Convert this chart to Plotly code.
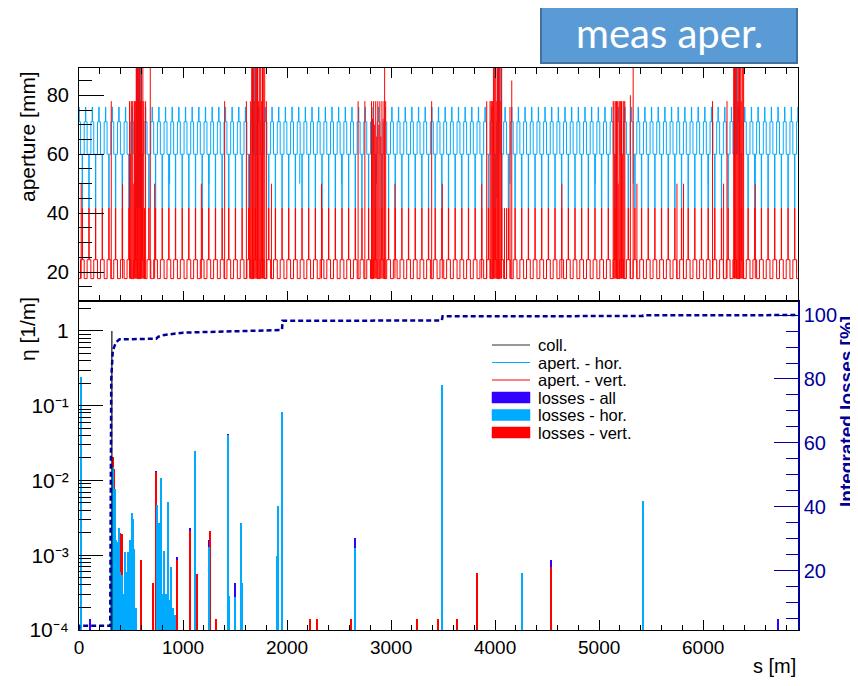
import plotly.graph_objects as go

# page body adds an 8 px margin, so the figure is drawn 8 px in from the window corner
OFF = 8
W, H = 858 - OFF, 686 - 2 * OFF

# ---------------------------------------------------------------- data
RING_LENGTH_M = 6911.5
S_TICKS = [0, 1000, 2000, 3000, 4000, 5000, 6000]
APER_TICKS = [20, 40, 60, 80]
ETA_TICKS = [1e-4, 1e-3, 1e-2, 1e-1, 1]
ETA_TICK_LABELS = ["10\u207b\u2074", "10\u207b\u00b3", "10\u207b\u00b2", "10\u207b\u00b9", "1"]
INT_TICKS = [20, 40, 60, 80, 100]

# repeating arc cell: edges relative to each focusing quad [m]
CELL_PERIOD_M = 64.0
N_CELLS = 109
CELL_EDGES_M = [-14, -1.5, 1.5, 14, 30.5, 33.5, 50]
CELL_APER_HOR = [71, 76, 71, 60, 41.7, 60]
CELL_APER_VER = [17.8, 17.8, 17.8, 24.2, 41.7, 24.2]

# isolated vertical-aperture spikes (from the 17.8 mm floor)
RED_SPIKE_S = [21, 419, 727, 1176, 1850, 2331, 3037, 3492, 3871, 4641, 5363, 5748, 5811, 6196, 6501,
               310, 1400, 2683, 2748, 3390, 6090]
RED_SPIKE_TOP = [50, 50, 50, 50, 50, 50, 50, 50, 50, 50, 50, 50, 50, 50, 50,
                 78, 78, 78, 78, 78, 78]

# straight sections: dense vertical-aperture lines
LSS_RED_S = [486, 494, 502, 510, 518, 526, 534, 542, 550, 556, 562, 568, 574, 580, 586, 592, 600, 606,
             614, 622, 630, 640, 685,
             1609, 1640, 1650, 1660, 1668, 1676, 1684, 1692, 1700, 1708, 1716, 1724, 1732, 1740, 1748,
             1756, 1764, 1772, 1785, 1801,
             2812, 2822, 2832, 2842, 2852, 2862, 2872, 2882, 2892, 2902, 2912, 2922, 2932, 2938, 2948,
             3919, 3951, 3960, 3968, 3976, 3984, 3992, 4000, 4008, 4016, 4024, 4032, 4040, 4048, 4057,
             4063, 4090, 4110, 4143, 4160,
             5135, 5143, 5151, 5159, 5167, 5175, 5183, 5191, 5199, 5207, 5215, 5223, 5231, 5239, 5247,
             5300, 5327,
             6229, 6293, 6301, 6309, 6317, 6325, 6333, 6341, 6349, 6357, 6365, 6373, 6381, 6389]
LSS_RED_TOP = [78, 60, 78, 78, 78, 50, 78, 78, 95, 95, 95, 78, 95, 95, 95, 78, 95, 78,
               95, 78, 41.7, 78, 95,
               78, 60, 78, 95, 95, 95, 78, 95, 95, 95, 95, 78, 95, 95, 95,
               78, 95, 95, 95, 78,
               78, 72, 78, 70, 78, 66, 78, 70, 78, 66, 78, 72, 78, 95, 78,
               78, 78, 78, 78, 78, 95, 95, 95, 95, 78, 95, 95, 95, 78, 95,
               95, 41.7, 41.7, 76, 85,
               78, 78, 60, 78, 78, 78, 50, 78, 78, 78, 78, 60, 78, 78, 78,
               80, 95,
               78, 95, 95, 95, 95, 95, 78, 95, 95, 95, 78, 95, 95, 95]

# extra horizontal-aperture lines
BLUE_EXTRA_S = [871, 1249, 2122, 2526, 2860, 4143, 4962, 5327, 6049, 6501,
                553, 562, 571, 580, 590, 599,
                1670, 1680, 1690, 1700, 1712,
                4015, 4025, 4035, 4045, 4057,
                6309, 6318, 6328]
BLUE_EXTRA_LO = [50, 50, 50, 50, 50, 50, 50, 50, 50, 50,
                 41.7, 41.7, 41.7, 41.7, 41.7, 41.7,
                 60, 60, 60, 60, 60,
                 45, 71, 71, 71, 60,
                 60, 60, 60]
BLUE_EXTRA_HI = [60, 60, 60, 60, 60, 60, 60, 60, 60, 60,
                 95, 95, 95, 95, 95, 95,
                 95, 95, 95, 95, 95,
                 71, 95, 95, 95, 95,
                 95, 95, 95]

# loss histograms eta [1/m]
LOSS_BIN_M = 10.0
HOR_S = [21, 310, 320, 330, 340, 350, 360, 370, 380, 390, 400, 410, 420, 430, 440, 450, 460, 470,
         480, 490, 500, 510, 520, 530, 545,
         750, 760, 768, 780, 787, 800, 810, 819, 830, 840, 858, 870, 887, 895, 905, 922,
         1118, 1246, 1436, 1446, 1497, 1561, 1571, 1907, 1917, 1952, 2658, 3492, 4262, 5420]
HOR_ETA = [0.24, 1.1e-3, 3.5e-3, 0.0153, 2.0e-3, 7.6e-3, 1.6e-3, 1.5e-3, 2.3e-3, 6e-4, 3.5e-4, 5.5e-4,
           3e-4, 3e-4, 1.1e-3, 5e-4, 6e-4, 1.1e-3, 1.0e-3, 1.6e-3, 1.1e-3, 3.7e-3, 3.1e-3, 1.2e-3, 2e-4,
           4.7e-3, 3e-4, 2.7e-3, 2.5e-4, 0.0107, 1.6e-4, 3e-4, 1.14e-3, 2.5e-4, 3e-4, 5.2e-3, 2.5e-4,
           7.0e-4, 2e-4, 2e-4, 1.6e-4,
           0.0248, 1.3e-3, 0.0406, 2.85e-4, 2.8e-4, 2.7e-3, 4.2e-4, 9.8e-4, 4.6e-3, 0.0817, 1.26e-3,
           0.19, 5.7e-4, 5.37e-3]
VER_S = [330, 340, 390, 416, 595, 714, 743, 945, 1070, 1137, 1256, 1320, 2225, 2286, 2613, 3251,
         3447, 3630, 3829, 4535]
VER_ETA = [0.0204, 0.0141, 2.0e-3, 1.9e-3, 8.6e-4, 4.3e-4, 0.0129, 8.6e-4, 2.1e-3, 5.6e-4, 2.1e-3,
           1.4e-4, 1.4e-4, 1.4e-4, 1.4e-4, 1.4e-4, 1.4e-4, 1.4e-4, 5.7e-4, 7.0e-4]
ALL_S = [108, 743, 945, 1070, 1246, 1436, 1497, 2658, 4535, 6720]
ALL_ETA = [1.4e-4, 0.0135, 9.5e-4, 2.3e-3, 1.6e-3, 0.042, 4.3e-4, 1.72e-3, 8.6e-4, 1.4e-4]
COLL_S = [316]
COLL_ETA = [1.0]

# integrated losses [%]
INT_S = [0, 3, 300, 303, 310, 325, 358, 390, 743, 760, 807, 999, 1417, 1930, 1952, 1956, 3488, 3495,
         5418, 5422, 6911]
INT_PCT = [1.5, 2.8, 2.8, 40, 80, 89, 91.6, 92.4, 92.6, 93.2, 93.7, 94.5, 94.8, 95.3, 95.5, 98.2,
           98.3, 99.6, 99.7, 99.9, 100]

LEGEND_LABELS = ["coll.", "apert. - hor.", "apert. - vert.", "losses - all", "losses - hor.",
                 "losses - vert."]

# ---------------------------------------------------------------- styles
C_HOR = "#00aaff"
C_VER = "#ff0000"
C_ALL = "#3300ff"
C_NAVY = "#000099"
FONT = "Liberation Sans, Arial, sans-serif"


def px(x):
    """window pixel x -> paper fraction"""
    return (x - OFF) / W


def py(y):
    """window pixel y -> paper fraction"""
    return 1 - (y - OFF) / H


# build aperture step lines from the repeated cell
qf_positions = [k * CELL_PERIOD_M for k in range(N_CELLS)]
ap_s, ap_h, ap_v = [], [], []
for q in qf_positions:
    for i in range(len(CELL_APER_HOR)):
        ap_s += [q + CELL_EDGES_M[i], q + CELL_EDGES_M[i + 1]]
        ap_h += [CELL_APER_HOR[i], CELL_APER_HOR[i]]
        ap_v += [CELL_APER_VER[i], CELL_APER_VER[i]]


def vlines(xs, lo, hi):
    X, Y = [], []
    for i, x in enumerate(xs):
        l = lo[i] if isinstance(lo, list) else lo
        h = hi[i] if isinstance(hi, list) else hi
        X += [x, x, None]
        Y += [l, h, None]
    return X, Y


fig = go.Figure()

# ---- top panel
fig.add_trace(go.Scatter(x=ap_s, y=ap_h, mode="lines", line=dict(color=C_HOR, width=1),
                         xaxis="x", yaxis="y", hoverinfo="skip"))
fig.add_trace(go.Scatter(x=ap_s, y=ap_v, mode="lines", line=dict(color=C_VER, width=1),
                         xaxis="x", yaxis="y", hoverinfo="skip"))
rx, ry = vlines(RED_SPIKE_S, 17.8, RED_SPIKE_TOP)
fig.add_trace(go.Scatter(x=rx, y=ry, mode="lines", line=dict(color=C_VER, width=1),
                         xaxis="x", yaxis="y", hoverinfo="skip"))
bx, by = vlines(BLUE_EXTRA_S, BLUE_EXTRA_LO, BLUE_EXTRA_HI)
fig.add_trace(go.Scatter(x=bx, y=by, mode="lines", line=dict(color=C_HOR, width=1),
                         xaxis="x", yaxis="y", hoverinfo="skip"))
lx, ly = vlines(LSS_RED_S, 17.8, LSS_RED_TOP)
fig.add_trace(go.Scatter(x=lx, y=ly, mode="lines", line=dict(color=C_VER, width=1),
                         xaxis="x", yaxis="y", hoverinfo="skip"))

# ---- bottom panel
fig.add_trace(go.Bar(x=ALL_S, y=ALL_ETA, width=LOSS_BIN_M, marker=dict(color=C_ALL, line_width=0),
                     xaxis="x2", yaxis="y2"))
fig.add_trace(go.Bar(x=VER_S, y=VER_ETA, width=LOSS_BIN_M, marker=dict(color=C_VER, line_width=0),
                     xaxis="x2", yaxis="y2"))
fig.add_trace(go.Bar(x=HOR_S, y=HOR_ETA, width=LOSS_BIN_M, marker=dict(color=C_HOR, line_width=0),
                     xaxis="x2", yaxis="y2"))
cx, cy = vlines(COLL_S, 1e-4, COLL_ETA)
fig.add_trace(go.Scatter(x=cx, y=cy, mode="lines", line=dict(color="#111111", width=1.2),
                         xaxis="x2", yaxis="y2", hoverinfo="skip"))
fig.add_trace(go.Scatter(x=INT_S, y=INT_PCT, mode="lines",
                         line=dict(color=C_NAVY, width=2.5, dash="5px,3px"),
                         xaxis="x2", yaxis="y3", hoverinfo="skip"))

XDOM = [px(79), px(798)]
ytickfont = dict(family=FONT, size=20, color="black")
xtickfont = dict(family=FONT, size=19, color="black")

fig.update_layout(
    width=W, height=H, showlegend=False, barmode="overlay", bargap=0,
    paper_bgcolor="white", plot_bgcolor="white",
    margin=dict(l=0, r=0, t=0, b=0, autoexpand=False),
    font=dict(family=FONT, color="black"),
    xaxis=dict(domain=XDOM, anchor="y", range=[0, RING_LENGTH_M], tickvals=S_TICKS,
               showticklabels=False, ticks="inside", ticklen=10, tickcolor="black",
               minor=dict(ticks="inside", ticklen=6, dtick=200, tickcolor="black", showgrid=False),
               showline=True, linecolor="black", linewidth=1, mirror="ticks", showgrid=False,
               zeroline=False),
    yaxis=dict(domain=[py(301), py(68)], anchor="x", range=[10.2, 89.25], tickvals=APER_TICKS,
               ticks="inside", ticklen=25, tickcolor="black", tickfont=ytickfont,
               minor=dict(ticks="inside", ticklen=13, dtick=5, tickcolor="black", showgrid=False),
               showline=True, linecolor="black", linewidth=1, mirror=True, showgrid=False,
               zeroline=False, ticklabelstandoff=5),
    xaxis2=dict(domain=XDOM, anchor="y2", range=[0, RING_LENGTH_M], tickvals=S_TICKS,
                ticks="inside", ticklen=10, tickcolor="black", tickfont=xtickfont,
                minor=dict(ticks="inside", ticklen=5, dtick=200, tickcolor="black", showgrid=False),
                showline=True, linecolor="black", linewidth=1, mirror=True, showgrid=False,
                zeroline=False, ticklabelstandoff=0),
    yaxis2=dict(domain=[py(630), py(301)], anchor="x2", type="log", range=[-4, 0.401],
                tickvals=ETA_TICKS, ticktext=ETA_TICK_LABELS, ticks="inside", ticklen=24,
                tickcolor="black", tickfont=dict(family=FONT, size=21, color="black"),
                minor=dict(ticks="inside", ticklen=12, dtick="D1", tickcolor="black", showgrid=False),
                showline=True, linecolor="black", linewidth=1, showgrid=False, zeroline=False,
                ticklabelstandoff=5),
    yaxis3=dict(overlaying="y2", anchor="x2", side="right", range=[1.45, 104.4],
                tickvals=INT_TICKS, ticks="inside", ticklen=24, tickcolor=C_NAVY,
                tickfont=dict(family=FONT, size=20, color=C_NAVY),
                minor=dict(ticks="inside", ticklen=12, dtick=5, tickcolor=C_NAVY, showgrid=False),
                showline=True, linecolor=C_NAVY, linewidth=1.5, showgrid=False, zeroline=False,
                ticklabelstandoff=0),
)

ann = []
shapes = []


def text(t, x, y, size, color="black", angle=0, xanchor="center", family=FONT):
    ann.append(dict(text=t, x=px(x), y=py(y), xref="paper", yref="paper", textangle=angle,
                    xanchor=xanchor, yanchor="middle", showarrow=False,
                    font=dict(family=family, size=size, color=color)))


# axis titles
text("aperture [mm]", 27, 137, 21, angle=-90)
text("\u03b7 [1/m]", 27, 329, 21, angle=-90)
text("s [m]", 798, 666, 20, xanchor="right")
text("<b>Integrated losses [%]</b>", 846, 412, 19, color=C_NAVY, angle=-90)

# legend
rows_y = [345, 362.5, 380, 397.5, 415, 432.5]
line_cols = ["#333333", C_HOR, C_VER]
for i, lab in enumerate(LEGEND_LABELS):
    y = rows_y[i]
    if i < 3:
        shapes.append(dict(type="line", xref="paper", yref="paper", x0=px(492), x1=px(530),
                           y0=py(y), y1=py(y), line=dict(color=line_cols[i], width=1.2)))
    else:
        col = [C_ALL, C_HOR, C_VER][i - 3]
        shapes.append(dict(type="rect", xref="paper", yref="paper", x0=px(492), x1=px(530),
                           y0=py(y + 5.5), y1=py(y - 5.5), fillcolor=col,
                           line=dict(color=col, width=0.5)))
    text(lab, 536, y, 16.5, xanchor="left")

# "meas aper." label box
shapes.append(dict(type="rect", xref="paper", yref="paper", x0=px(541), x1=px(797), y0=py(63),
                   y1=py(3), fillcolor="#5b9bd5", line=dict(color="#41719c", width=2)))
text("meas aper.", 669, 33, 40, color="white", family="Lato, Open Sans, sans-serif")

fig.update_layout(annotations=ann, shapes=shapes)
fig.write_html("out.html")
